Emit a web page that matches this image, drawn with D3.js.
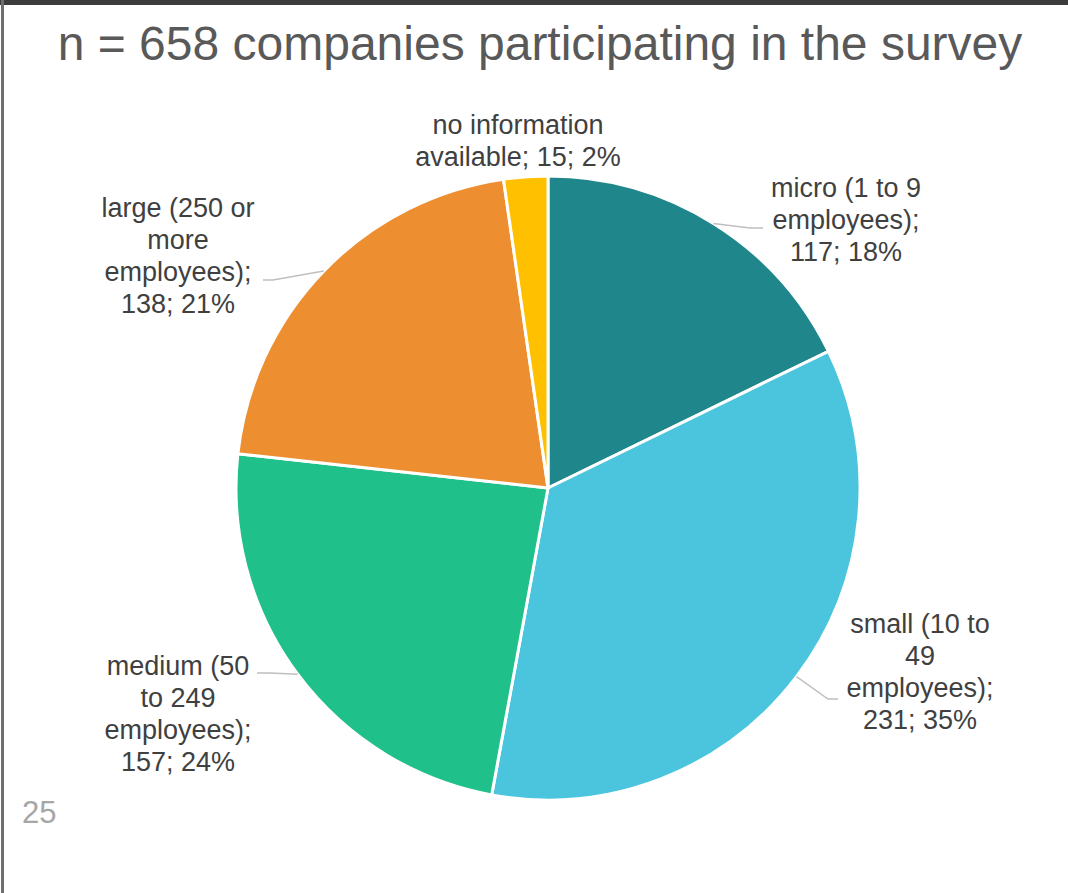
<!DOCTYPE html>
<html>
<head>
<meta charset="utf-8">
<script src="https://cdn.jsdelivr.net/npm/d3@7"></script>
<style>
  html, body { margin: 0; padding: 0; background: #fff; }
  svg { display: block; }
  text { font-family: "Liberation Sans", Arial, sans-serif; }
</style>
</head>
<body>
<svg id="chart" width="1068" height="893"></svg>
<script>
// Company size breakdown of survey participants
const categories = [
  "micro (1 to 9 employees)",
  "small (10 to 49 employees)",
  "medium (50 to 249 employees)",
  "large (250 or more employees)",
  "no information available"
];
const counts = [117, 231, 157, 138, 15];
const percents = ["18%", "35%", "24%", "21%", "2%"];
const colors = ["#1f878b", "#4bc4dd", "#20c08a", "#ed8f31", "#ffc000"];

// How each data label wraps onto lines
const labelLines = [
  ["micro (1 to 9", "employees);", "117; 18%"],
  ["small (10 to", "49", "employees);", "231; 35%"],
  ["medium (50", "to 249", "employees);", "157; 24%"],
  ["large (250 or", "more", "employees);", "138; 21%"],
  ["no information", "available; 15; 2%"]
];

// Label placement: text centre x, first baseline y, leader elbow and end
const labelLayout = [
  { x: 846, y: 197, elbow: [750, 228], end: [763, 228] },
  { x: 920, y: 633, elbow: [828, 699], end: [838, 699] },
  { x: 178, y: 675, elbow: [270, 673], end: [257, 673] },
  { x: 178, y: 217, elbow: [273, 280], end: [263, 280] },
  { x: 518, y: 134, elbow: null, end: null }
];

const svg = d3.select("#chart");
const W = 1068, H = 893;
const cx = 548, cy = 488, R = 312;

// frame edges
svg.append("rect").attr("x", 0).attr("y", 0).attr("width", W).attr("height", 5).attr("fill", "#3c3c3c");
svg.append("rect").attr("x", 1).attr("y", 0).attr("width", 3).attr("height", H).attr("fill", "#6e6e6e");

svg.append("text")
  .attr("x", 540).attr("y", 60)
  .attr("text-anchor", "middle")
  .attr("font-size", 48)
  .attr("fill", "#595959")
  .text("n = 658 companies participating in the survey");

svg.append("text")
  .attr("x", 22).attr("y", 823)
  .attr("font-size", 31)
  .attr("fill", "#a6a6a6")
  .text("25");

const data = categories.map((c, i) => ({ name: c, value: counts[i], pct: percents[i], i }));

const pie = d3.pie().value(d => d.value).sort(null);
const arc = d3.arc().innerRadius(0).outerRadius(R);
const arcs = pie(data);

const g = svg.append("g").attr("transform", `translate(${cx},${cy})`);
g.selectAll("path.slice")
  .data(arcs)
  .join("path")
  .attr("class", "slice")
  .attr("d", arc)
  .attr("fill", d => colors[d.data.i])
  .attr("stroke", "#fff")
  .attr("stroke-width", 3)
  .attr("stroke-linejoin", "round");

// leader lines from the slice edge midpoint
arcs.forEach(a => {
  const L = labelLayout[a.data.i];
  if (!L.elbow) return;
  const mid = (a.startAngle + a.endAngle) / 2;
  const sx = cx + R * Math.sin(mid), sy = cy - R * Math.cos(mid);
  svg.append("polyline")
    .attr("points", [[sx, sy], L.elbow, L.end].map(p => p.join(",")).join(" "))
    .attr("fill", "none")
    .attr("stroke", "#bfbfbf")
    .attr("stroke-width", 1.5);
});

// data labels
arcs.forEach(a => {
  const L = labelLayout[a.data.i];
  const t = svg.append("text")
    .attr("text-anchor", "middle")
    .attr("font-size", 27)
    .attr("fill", "#404040");
  labelLines[a.data.i].forEach((line, k) => {
    t.append("tspan").attr("x", L.x).attr("y", L.y + k * 32).text(line);
  });
});
</script>
</body>
</html>
